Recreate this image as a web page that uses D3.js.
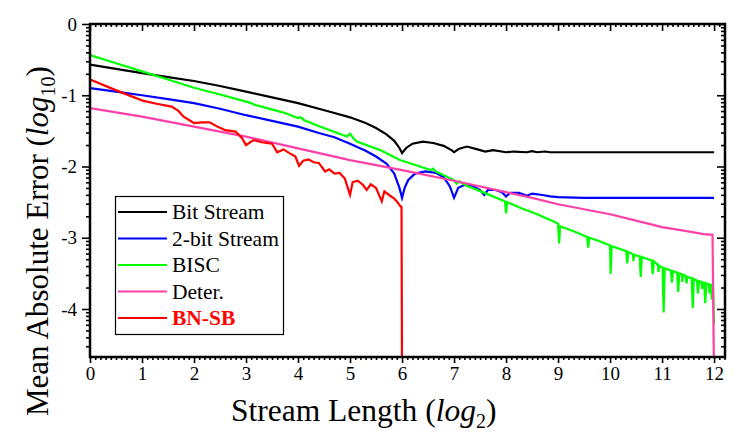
<!DOCTYPE html>
<html><head><meta charset="utf-8">
<script src="https://cdn.jsdelivr.net/npm/d3@7"></script>
<style>
html,body{margin:0;padding:0;background:#fff;}
svg{display:block;font-family:"Liberation Serif","Times New Roman",serif;}
</style></head>
<body><svg id="chart" width="755" height="434"></svg>
<script>
// ---- data (x = log2 stream length, y = log10 mean absolute error) ----
const seriesNames = ["Bit Stream", "2-bit Stream", "BISC", "Deter.", "BN-SB"];
const seriesColors = ["#000000", "#0000ff", "#00ff00", "#ff40a8", "#ff0000"];
const xTicks = [0,1,2,3,4,5,6,7,8,9,10,11,12];
const yTicks = [0,-1,-2,-3,-4];

const bitStream = [[0,-0.57],[0.5,-0.63],[1,-0.69],[1.5,-0.745],[2,-0.80],[2.5,-0.87],[3,-0.95],[3.5,-1.03],[4,-1.11],[4.4,-1.19],[4.7,-1.25],[5,-1.31],[5.3,-1.39],[5.5,-1.46],[5.7,-1.55],[5.85,-1.64],[5.95,-1.74],[6,-1.81],[6.08,-1.74],[6.2,-1.68],[6.4,-1.65],[6.6,-1.67],[6.8,-1.71],[6.95,-1.77],[7,-1.80],[7.1,-1.75],[7.25,-1.72],[7.45,-1.76],[7.6,-1.79],[7.75,-1.77],[8,-1.80],[8.15,-1.79],[8.4,-1.80],[8.5,-1.785],[8.6,-1.80],[8.75,-1.79],[8.85,-1.80],[9,-1.80],[12,-1.80]];

const twoBitStream = [[0,-0.90],[0.5,-0.95],[1,-1.00],[1.5,-1.055],[2,-1.11],[2.5,-1.19],[3,-1.28],[3.5,-1.36],[4,-1.44],[4.4,-1.53],[4.7,-1.59],[5,-1.68],[5.3,-1.78],[5.5,-1.86],[5.7,-1.96],[5.85,-2.10],[5.95,-2.30],[6,-2.44],[6.05,-2.30],[6.12,-2.19],[6.25,-2.10],[6.45,-2.07],[6.65,-2.09],[6.8,-2.15],[6.92,-2.28],[7,-2.44],[7.08,-2.30],[7.2,-2.26],[7.35,-2.27],[7.5,-2.33],[7.58,-2.40],[7.65,-2.33],[7.8,-2.33],[7.92,-2.36],[8,-2.42],[8.08,-2.37],[8.25,-2.37],[8.4,-2.41],[8.5,-2.38],[8.7,-2.40],[8.85,-2.42],[9,-2.43],[9.5,-2.44],[12,-2.44]];

const bisc = [[0,-0.435],[0.5,-0.55],[1,-0.665],[1.5,-0.78],[2,-0.895],[2.5,-0.99],[2.88,-1.065],[3.1,-1.11],[3.15,-1.13],[3.65,-1.23],[3.75,-1.25],[4.0,-1.32],[4.05,-1.31],[4.12,-1.35],[4.42,-1.44],[4.94,-1.58],[5.0,-1.54],[5.06,-1.60],[5.13,-1.65],[5.58,-1.77],[5.96,-1.91],[6.3,-1.99],[6.55,-2.05],[6.6,-2.03],[6.65,-2.07],[7.0,-2.19],[7.05,-2.24],[7.1,-2.21],[7.24,-2.27],[7.55,-2.36],[7.88,-2.46],[7.98,-2.49],[8.0,-2.66],[8.02,-2.50],[8.27,-2.58],[8.6,-2.67],[9.0,-2.80],[9.02,-3.08],[9.04,-2.84],[9.3,-2.91],[9.56,-2.99],[9.58,-3.14],[9.6,-3.00],[9.8,-3.05],[10.0,-3.11],[10.01,-3.51],[10.03,-3.12],[10.2,-3.16],[10.31,-3.19],[10.33,-3.36],[10.35,-3.20],[10.44,-3.23],[10.45,-3.33],[10.46,-3.24],[10.57,-3.26],[10.59,-3.55],[10.61,-3.27],[10.8,-3.32],[10.82,-3.51],[10.84,-3.33],[10.92,-3.38],[10.93,-3.48],[10.94,-3.39],[11.01,-3.42],[11.03,-4.05],[11.05,-3.43],[11.17,-3.46],[11.19,-3.63],[11.21,-3.47],[11.29,-3.49],[11.31,-3.76],[11.33,-3.50],[11.38,-3.51],[11.39,-3.62],[11.4,-3.52],[11.45,-3.53],[11.47,-3.64],[11.49,-3.55],[11.57,-3.57],[11.59,-3.99],[11.61,-3.58],[11.67,-3.60],[11.69,-3.78],[11.71,-3.61],[11.76,-3.62],[11.77,-3.72],[11.78,-3.63],[11.81,-3.63],[11.83,-3.92],[11.85,-3.64],[11.9,-3.65],[11.91,-3.78],[11.92,-3.66],[11.94,-3.66],[11.96,-3.87],[11.98,-3.68],[12.0,-4.22]];

const deter = [[0,-1.18],[1,-1.30],[2,-1.44],[3,-1.58],[4,-1.745],[5,-1.91],[6,-2.05],[7,-2.20],[8,-2.36],[8.5,-2.44],[9,-2.53],[9.5,-2.60],[10,-2.67],[10.5,-2.76],[11,-2.85],[11.5,-2.91],[11.8,-2.95],[11.97,-2.96],[12,-5]];

const bnsb = [[0,-0.78],[0.2,-0.84],[0.4,-0.90],[0.64,-0.97],[0.85,-1.03],[1.03,-1.08],[1.28,-1.12],[1.57,-1.16],[1.7,-1.22],[1.8,-1.30],[2.0,-1.39],[2.15,-1.38],[2.3,-1.38],[2.45,-1.44],[2.6,-1.49],[2.8,-1.51],[2.92,-1.60],[3.0,-1.70],[3.08,-1.66],[3.15,-1.63],[3.3,-1.66],[3.5,-1.68],[3.6,-1.80],[3.72,-1.76],[3.85,-1.82],[3.95,-1.86],[4.02,-1.99],[4.1,-1.92],[4.2,-1.90],[4.3,-1.94],[4.4,-1.95],[4.52,-2.07],[4.6,-2.04],[4.7,-2.10],[4.8,-2.09],[4.9,-2.17],[5.0,-2.40],[5.05,-2.22],[5.15,-2.20],[5.25,-2.26],[5.32,-2.33],[5.4,-2.25],[5.5,-2.30],[5.61,-2.49],[5.66,-2.35],[5.75,-2.40],[5.85,-2.45],[5.9,-2.49],[5.96,-2.55],[5.99,-2.57],[6.0,-5]];

const allSeries = [bitStream, twoBitStream, bisc, deter, bnsb];

// ---- layout ----
const svg = d3.select("#chart");
const L = 90, R = 725, T = 24, B = 357;
const x = d3.scaleLinear().domain([0, 12.21]).range([L, R]);
const y = d3.scaleLinear().domain([0, -4.674]).range([T, B]);

svg.append("defs").append("clipPath").attr("id","clip")
  .append("rect").attr("x",L).attr("y",T).attr("width",R-L).attr("height",B-T);

// minor ticks
const xMinor = d3.range(0, 12.21, 0.1).filter(v => Math.abs(v - Math.round(v)) > 1e-6);
const yMinor = [];
for (let d = 0; d > -5; d--) for (let k = 2; k <= 9; k++) { const v = d - 1 + Math.log10(k); if (v >= -4.674) yMinor.push(v); }

function styleAxis(g){ g.select(".domain").remove(); g.selectAll("line").attr("stroke","#000").attr("stroke-width",1.6); }

// bottom
svg.append("g").attr("transform",`translate(0,${B})`)
  .call(d3.axisBottom(x).tickValues(xMinor).tickSize(3).tickFormat("")).call(styleAxis);
svg.append("g").attr("transform",`translate(0,${B})`)
  .call(d3.axisBottom(x).tickValues(xTicks).tickSize(6).tickPadding(4).tickFormat(d => String(d)))
  .call(styleAxis)
  .call(g => g.selectAll("text").attr("font-family","Liberation Serif").attr("font-size",19).attr("fill","#000"));
// top (inward)
svg.append("g").attr("transform",`translate(0,${T})`)
  .call(d3.axisBottom(x).tickValues(xMinor).tickSize(3).tickFormat("")).call(styleAxis);
svg.append("g").attr("transform",`translate(0,${T})`)
  .call(d3.axisBottom(x).tickValues(xTicks).tickSize(7).tickFormat("")).call(styleAxis);
// left
svg.append("g").attr("transform",`translate(${L},0)`)
  .call(d3.axisLeft(y).tickValues(yMinor).tickSize(4).tickFormat("")).call(styleAxis);
svg.append("g").attr("transform",`translate(${L},0)`)
  .call(d3.axisLeft(y).tickValues(yTicks).tickSize(8).tickPadding(5).tickFormat(d => String(d)))
  .call(styleAxis)
  .call(g => g.selectAll("text").attr("font-family","Liberation Serif").attr("font-size",19).attr("fill","#000"));
// right (inward)
svg.append("g").attr("transform",`translate(${R},0)`)
  .call(d3.axisLeft(y).tickValues(yMinor).tickSize(4).tickFormat("")).call(styleAxis);
svg.append("g").attr("transform",`translate(${R},0)`)
  .call(d3.axisLeft(y).tickValues(yTicks).tickSize(8).tickFormat("")).call(styleAxis);

// lines
const line = d3.line().x(d => x(d[0])).y(d => y(d[1]));
const lg = svg.append("g").attr("clip-path","url(#clip)");
allSeries.forEach((s, i) => {
  lg.append("path").datum(s).attr("d", line).attr("fill","none")
    .attr("stroke", seriesColors[i]).attr("stroke-width", 2.2).attr("stroke-linejoin","miter");
});

// frame
svg.append("rect").attr("x",L).attr("y",T).attr("width",R-L).attr("height",B-T)
  .attr("fill","none").attr("stroke","#000").attr("stroke-width",2.5);

// legend
const leg = svg.append("g");
leg.append("rect").attr("x",115.5).attr("y",196.5).attr("width",168).attr("height",138)
  .attr("fill","#fff").attr("stroke","#000").attr("stroke-width",1.2);
seriesNames.forEach((n, i) => {
  const cy = 212 + i * 26.5;
  leg.append("line").attr("x1",118).attr("x2",167).attr("y1",cy).attr("y2",cy)
    .attr("stroke",seriesColors[i]).attr("stroke-width",2.2);
  leg.append("text").attr("x",172).attr("y",cy+7).text(n)
    .attr("font-family","Liberation Serif")
    .attr("font-size",21.5).attr("fill", i === 4 ? "#ff0000" : "#000")
    .attr("font-weight", i === 4 ? "bold" : "normal");
});

// axis titles
const xt = svg.append("text").attr("x",231).attr("y",421).attr("font-size",31.5).attr("fill","#000")
  .attr("font-family","Liberation Serif");
xt.append("tspan").text("Stream Length (");
xt.append("tspan").text("log").attr("font-style","italic");
xt.append("tspan").text("2").attr("font-size",20).attr("dy",7);
xt.append("tspan").text(")").attr("dy",-7);

const yt = svg.append("text").attr("transform","translate(48,416) rotate(-90)").attr("x",0).attr("y",0)
  .attr("font-size",31).attr("fill","#000").attr("font-family","Liberation Serif");
yt.append("tspan").text("Mean Absolute Error (");
yt.append("tspan").text("log").attr("font-style","italic");
yt.append("tspan").text("10").attr("font-size",20).attr("dy",7);
yt.append("tspan").text(")").attr("dy",-7);
</script></body></html>
